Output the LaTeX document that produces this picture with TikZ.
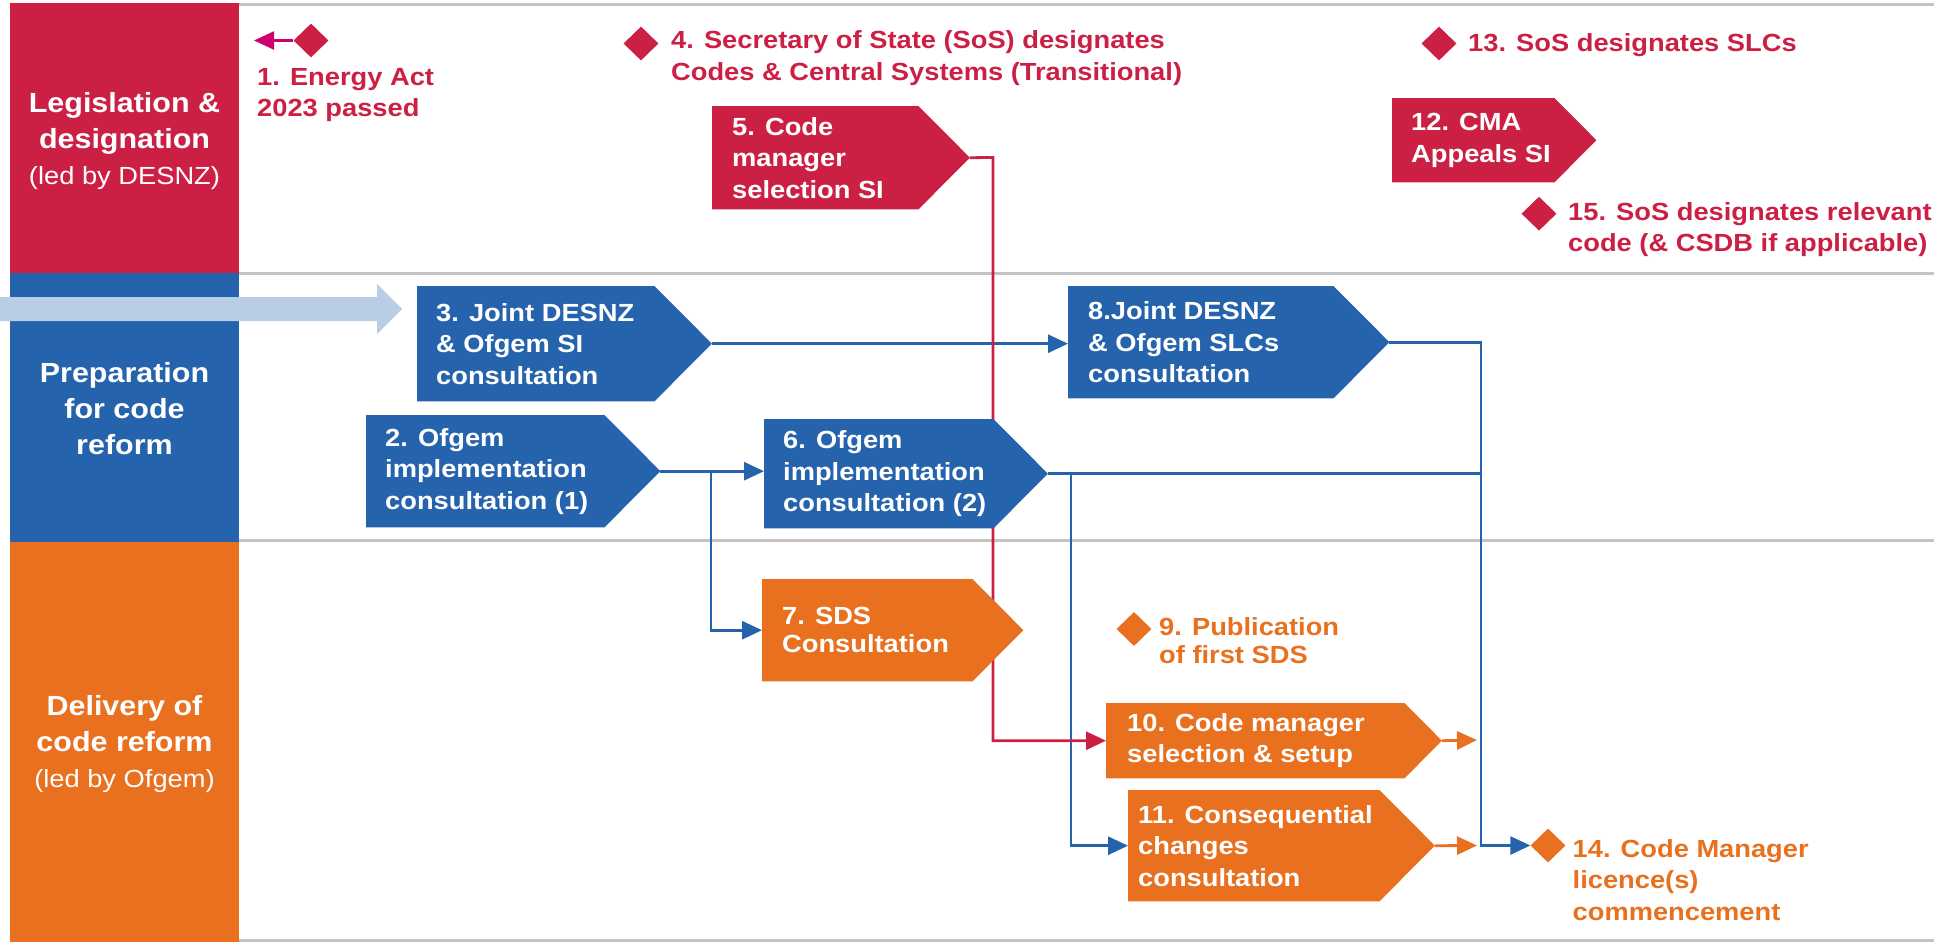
\documentclass[tikz,border=0pt]{standalone}
\usepackage{fontspec}
\setmainfont{Liberation Sans}[FakeStretch=1.1]
\usetikzlibrary{arrows.meta,shapes.geometric,calc}
\definecolor{cred}{HTML}{CC1F44}
\definecolor{cblue}{HTML}{2563AD}
\definecolor{corange}{HTML}{E8701E}
\definecolor{cmag}{HTML}{CC006E}
\definecolor{cgray}{HTML}{C4C4C4}
\definecolor{clight}{HTML}{B9CDE5}
\pgfdeclarelayer{back}
\pgfsetlayers{back,main}
\tikzset{
  boxshape/.style={rectangle, inner sep=0pt, anchor=north west},
  boxtext/.style={anchor=west, align=left, text=white, inner sep=0pt,
    font=\fontsize{24.8}{31.5}\selectfont\bfseries},
  mstext/.style={anchor=west, align=left, inner sep=0pt,
    font=\fontsize{24.8}{31.5}\selectfont\bfseries},
  bandtitle/.style={align=center, text=white, inner sep=0pt,
    font=\fontsize{27.7}{36}\selectfont\bfseries},
  milestone/.style={diamond, inner sep=0pt, minimum width=35pt, minimum height=34pt},
  gridline/.style={cgray, line width=3pt},
  bline/.style={cblue, line width=2.8pt},
  rline/.style={cred, line width=2.8pt},
  oline/.style={corange, line width=2.8pt},
  mline/.style={cmag, line width=2.2pt},
  tip/.style={-{Triangle[length=20pt,width=18pt]}},
}
\newcommand\pbox[8]{%
  \node[boxshape, minimum width=#5pt, minimum height=#6pt] (#1) at (#3,#4) {};
  \coordinate (#1-tip) at ($(#1.east)+(#6/2,0)$);
  \fill[#2] (#1.north west) -- (#1.north east) -- (#1-tip) -- (#1.south east) -- (#1.south west) -- cycle;
  \node[boxtext] (#1-text) at ([xshift=#7pt]#1.west) {#8};
}
\begin{document}
\begin{tikzpicture}[x=1pt,y=-1pt]
\useasboundingbox (0,0) rectangle (1941,942);

% left bands
\fill[cred] (10,3) rectangle (239,272.7);
\fill[cblue] (10,272.7) rectangle (239,541.7);
\fill[corange] (10,541.7) rectangle (239,942);
\node[bandtitle] (lane1) at (124.5,141) {Legislation \&\\designation\\{\mdseries\fontsize{24.8}{36}\selectfont (led by DESNZ)}};
\node[bandtitle] (lane2) at (124.5,409) {Preparation\\for code\\reform};
\node[bandtitle] (lane3) at (124.5,744) {Delivery of\\code reform\\{\mdseries\fontsize{24.8}{36}\selectfont (led by Ofgem)}};

% big incoming arrow
\fill[clight] (0,297) -- (377,297) -- (377,284) -- (402,309) -- (377,334) -- (377,321) -- (0,321) -- cycle;

% process boxes
\pbox{n2}{cblue}{366}{415}{238}{112}{19}{2. Ofgem\\implementation\\consultation (1)}
\pbox{n3}{cblue}{417}{286}{237}{115}{19}{3. Joint DESNZ\\\& Ofgem SI\\consultation}
\pbox{n5}{cred}{712}{106}{206}{103}{20}{5. Code\\manager\\selection SI}
\pbox{n6}{cblue}{764}{419}{229}{109}{19}{6. Ofgem\\implementation\\consultation (2)}
\pbox{n7}{corange}{762}{579}{210}{102}{20}{7. SDS\\[-3.5pt]Consultation}
\pbox{n8}{cblue}{1068}{286}{265}{112}{20}{8.Joint DESNZ\\\& Ofgem SLCs\\consultation}
\pbox{n10}{corange}{1106}{703}{298}{75}{21}{10. Code manager\\selection \& setup}
\pbox{n11}{corange}{1128}{790}{251}{111}{10}{11. Consequential\\changes\\consultation}
\pbox{n12}{cred}{1392}{98}{162}{84}{19}{12. CMA\\Appeals SI}

% milestones
\node[milestone, fill=cred] (d1) at (311,40.5) {};
\node[milestone, fill=cred] (d4) at (641,43.5) {};
\node[milestone, fill=cred] (d13) at (1439,43.5) {};
\node[milestone, fill=cred] (d15) at (1539,213.7) {};
\node[milestone, fill=corange] (d9) at (1134,629) {};
\node[milestone, fill=corange] (d14) at (1548,845.5) {};

\node[mstext, text=cred] (t1) at (257,95) {1. Energy Act\\2023 passed};
\node[mstext, text=cred] (t4) at (671,58) {4. Secretary of State (SoS) designates\\Codes \& Central Systems (Transitional)};
\node[mstext, text=cred] (t13) at (1468,45) {13. SoS designates SLCs};
\node[mstext, text=cred] (t15) at (1568,229.5) {15. SoS designates relevant\\code (\& CSDB if applicable)};
\node[mstext, text=corange] (t9) at (1159,641) {9. Publication\\[-3.5pt]of first SDS};
\node[mstext, text=corange] (t14) at (1572.5,880) {14. Code Manager\\licence(s)\\commencement};

\coordinate (j2) at (711,471);
\coordinate (r5) at (993,157.5);
\coordinate (j6) at (1071,473);
\coordinate (cr) at (1481,845.5);
\coordinate (e10) at (1477,740);
\coordinate (e11) at (1477,845.5);
\coordinate (e1) at (254,40.5);

\begin{pgfonlayer}{back}
  \draw[gridline] (239,5) -- (1934,5);
  \draw[gridline] (239,273) -- (1934,273);
  \draw[gridline] (239,540.5) -- (1934,540.5);
  \draw[gridline] (239,940) -- (1934,940);
  % blue connectors
  \draw[bline, tip] (n3-tip) -- (n8.west |- n3-tip);
  \draw[bline, tip] (n2-tip) -- (n6.west |- n2-tip);
  \draw[bline, tip] (j2) |- (n7.west);
  \draw[bline] (n6-tip) -- (n6-tip -| cr);
  \draw[bline, tip] (j6) |- (n11.west);
  \draw[bline, tip] (n8-tip) -| (cr) -- (d14.west);
  % red connector
  \draw[rline, tip] (n5-tip) -- (r5) |- (n10.west);
  % orange connectors
  \draw[oline, tip] (n10-tip) -- (e10);
  \draw[oline, tip] (n11-tip) -- (e11);
  % magenta
  \draw[mline, tip] (d1.west) -- (e1);
\end{pgfonlayer}
\end{tikzpicture}
\end{document}
